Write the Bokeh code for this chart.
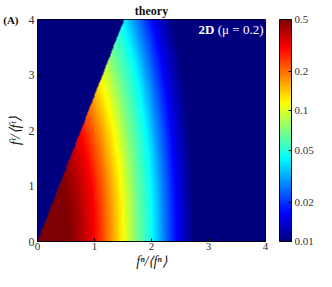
import numpy as np
from bokeh.plotting import figure
from bokeh.models import (LogColorMapper, ColorBar, FixedTicker, Label, Range1d,
                          CustomJSTickFormatter, LinearAxis)
from bokeh.embed import file_html
from bokeh.resources import INLINE

# ---- data ----
# value of the distribution along the f^n axis (f^t = 0)
profile_x = [0.0, 0.25, 0.5, 0.75, 1.0, 1.25, 1.5, 1.75, 2.0, 2.25, 2.5, 2.75, 3.0, 4.0]
profile_v = [0.60, 0.58, 0.52, 0.42, 0.31, 0.19, 0.115, 0.068, 0.045, 0.025, 0.0145, 0.0099, 0.007, 0.002]
cone_slope = 2.63        # Coulomb cone edge: f^t/<f^t> = slope * f^n/<f^n>
contour_stretch = 2.9    # contours are ellipses stretched along f^t
cbar_ticks = [0.01, 0.02, 0.05, 0.1, 0.2, 0.5]
x_ticks = [0, 1, 2, 3, 4]
y_ticks = [0, 1, 2, 3, 4]
title_text = "theory"
panel_tag = "(A)"
model_tag = "2D"
model_param = "(μ = 0.2)"

# ---- jet palette ----
def jet(t):
    r = min(max(1.5 - abs(4 * t - 3), 0), 1)
    g = min(max(1.5 - abs(4 * t - 2), 0), 1)
    b = min(max(1.5 - abs(4 * t - 1), 0), 1)
    return "#%02x%02x%02x" % (int(r * 255), int(g * 255), int(b * 255))

palette = [jet(i / 255) for i in range(256)]

# ---- field ----
N = 480
gx = (np.arange(N) + 0.5) / N * 4.0
X, Y = np.meshgrid(gx, gx)
R = np.sqrt(X ** 2 + (Y / contour_stretch) ** 2)
field = np.exp(np.interp(R, profile_x, np.log(profile_v)))
field[Y > cone_slope * X] = 1e-4

mapper = LogColorMapper(palette=palette, low=0.01, high=0.5,
                        low_color=palette[0], high_color=palette[-1])

FONT = "Liberation Serif"

p = figure(width=316, height=271, x_range=Range1d(0, 4), y_range=Range1d(0, 4),
           output_backend="svg", toolbar_location=None,
           min_border_left=28, min_border_top=0, min_border_right=0, min_border_bottom=0)

p.image(image=[field], x=0, y=0, dw=4, dh=4, color_mapper=mapper)
p.grid.visible = False
p.outline_line_color = "black"
p.outline_line_width = 1

for ax, ticks in ((p.xaxis[0], x_ticks), (p.yaxis[0], y_ticks)):
    ax.ticker = FixedTicker(ticks=ticks)
    ax.minor_tick_line_color = None
    ax.major_tick_in = 3
    ax.major_tick_out = 0
    ax.major_tick_line_color = "black"
    ax.axis_line_color = "black"
    ax.major_label_text_font = FONT
    ax.major_label_text_color = "#333333"
    ax.axis_label_text_font = FONT
    ax.axis_label_text_font_style = "italic"
    ax.axis_label_text_color = "#222222"

p.xaxis.major_label_text_font_size = "11px"
p.xaxis.major_label_standoff = 1
p.xaxis.axis_label = "fⁿ/⟨fⁿ⟩"
p.xaxis.axis_label_text_font_size = "14px"
p.xaxis.axis_label_standoff = 1

p.yaxis.major_label_text_font_size = "12px"
p.yaxis.major_label_standoff = 3
p.yaxis.axis_label = "fᵗ/⟨fᵗ⟩"
p.yaxis.axis_label_text_font_size = "15px"
p.yaxis.axis_label_standoff = 3

# top guide carrying the title "theory" as its label
top_axis = LinearAxis(ticker=FixedTicker(ticks=[]),
                      axis_line_color=None, major_tick_line_color=None,
                      minor_tick_line_color=None, major_tick_in=0, major_tick_out=0,
                      axis_label=title_text, axis_label_text_font=FONT,
                      axis_label_text_font_size="12px", axis_label_text_font_style="bold",
                      axis_label_text_color="#111111", axis_label_standoff=2)
p.add_layout(top_axis, "above")

# outer left guide carrying the panel tag "(A)" next to the top tick
tag_axis = LinearAxis(ticker=FixedTicker(ticks=[4]),
                      major_label_overrides={4: panel_tag},
                      axis_line_color=None, major_tick_line_color=None,
                      minor_tick_line_color=None, major_tick_in=0, major_tick_out=0,
                      major_label_text_font=FONT, major_label_text_font_size="11px",
                      major_label_text_font_style="bold", major_label_text_color="#111111",
                      major_label_text_align="right", major_label_text_baseline="top",
                      major_label_orientation="horizontal",
                      major_label_standoff=-15)
p.add_layout(tag_axis, "left")

cb = ColorBar(color_mapper=mapper, ticker=FixedTicker(ticks=cbar_ticks),
              formatter=CustomJSTickFormatter(code="return String(tick)"),
              width=12, height="auto", padding=0, margin=0, location=(14, 0),
              bar_line_color="black", bar_line_width=1,
              major_tick_in=3, major_tick_out=0, major_tick_line_color="black",
              minor_tick_line_color=None,
              major_label_text_font=FONT, major_label_text_font_size="11px",
              major_label_text_color="#333333", label_standoff=3,
              background_fill_alpha=0, border_line_color=None)
p.add_layout(cb, "right")

p.add_layout(Label(x=4, y=4, x_offset=-2, y_offset=-2, text=model_param, text_align="right",
                   text_baseline="top", text_font=FONT, text_font_size="13px",
                   text_color="white"))
p.add_layout(Label(x=4, y=4, x_offset=-51, y_offset=-2, text=model_tag, text_align="right",
                   text_baseline="top", text_font=FONT, text_font_size="13px",
                   text_font_style="bold", text_color="white"))

open("out.html", "w").write(file_html(p, INLINE))
